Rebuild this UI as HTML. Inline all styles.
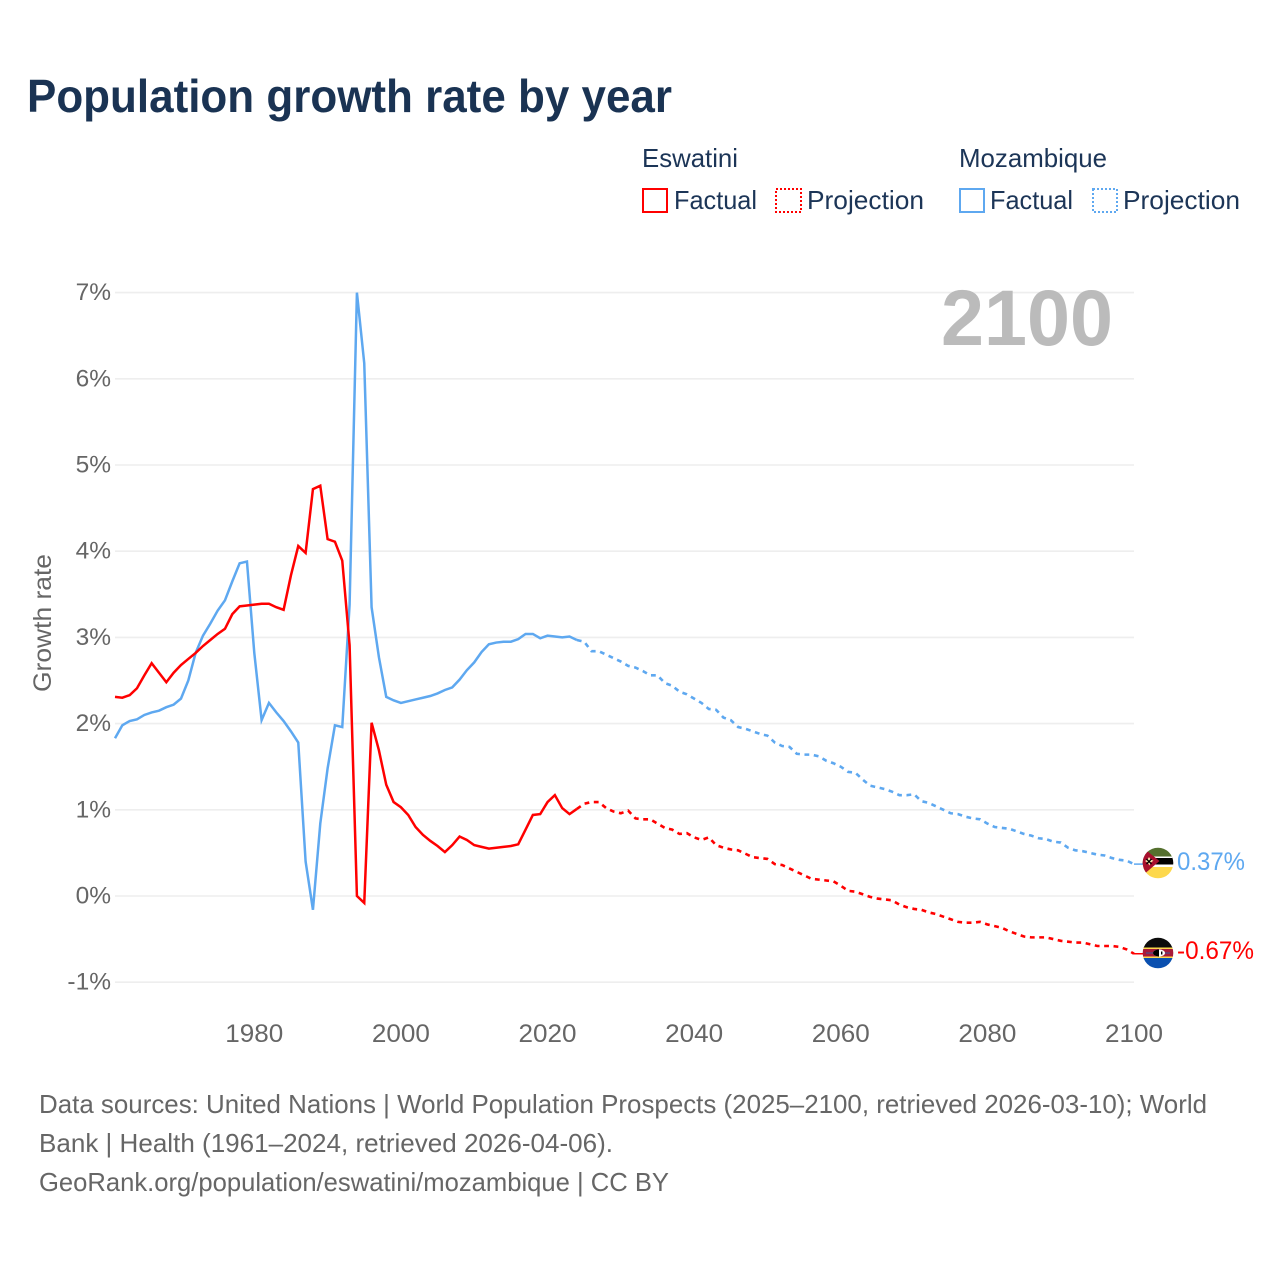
<!DOCTYPE html>
<html lang="en">
<head>
<meta charset="utf-8">
<title>Population growth rate by year</title>
<style>
  html, body { margin: 0; padding: 0; background: #fff; }
  svg { display: block; font-family: "Liberation Sans", "DejaVu Sans", sans-serif; }
</style>
</head>
<body>
<svg id="chart" xmlns="http://www.w3.org/2000/svg" width="1280" height="1280" viewBox="0 0 1280 1280">
  <rect x="0" y="0" width="1280" height="1280" fill="#ffffff"/>
  <text x="27" y="112" font-size="46" font-weight="700" fill="#1a3353" textLength="645" lengthAdjust="spacingAndGlyphs">Population growth rate by year</text>

  <g font-size="26" fill="#1c3557">
    <text x="642" y="167" textLength="96" lengthAdjust="spacingAndGlyphs">Eswatini</text>
    <text x="959" y="167" textLength="148" lengthAdjust="spacingAndGlyphs">Mozambique</text>
    <g>
      <rect x="643" y="189" width="24" height="23" fill="none" stroke="#ff0000" stroke-width="2"/>
      <text x="674" y="209" textLength="83" lengthAdjust="spacingAndGlyphs">Factual</text>
    </g>
    <g>
      <rect x="776" y="189" width="25" height="23" fill="none" stroke="#ff0000" stroke-width="2" stroke-dasharray="2,2"/>
      <text x="807" y="209" textLength="117" lengthAdjust="spacingAndGlyphs">Projection</text>
    </g>
    <g>
      <rect x="960" y="189" width="24" height="23" fill="none" stroke="#5ea8f0" stroke-width="2"/>
      <text x="990" y="209" textLength="83" lengthAdjust="spacingAndGlyphs">Factual</text>
    </g>
    <g>
      <rect x="1093" y="189" width="24" height="23" fill="none" stroke="#5ea8f0" stroke-width="2" stroke-dasharray="2,2"/>
      <text x="1123" y="209" textLength="117" lengthAdjust="spacingAndGlyphs">Projection</text>
    </g>
  </g>

  <text transform="translate(51,692) rotate(-90)" x="0" y="0" font-size="25" fill="#666666" textLength="138" lengthAdjust="spacingAndGlyphs">Growth rate</text>

  <g id="grid"></g>
  <g id="yticks" font-size="24.5" fill="#666666" text-anchor="end"></g>
  <g id="xticks" font-size="25" fill="#666666" text-anchor="middle"></g>

  <text x="941" y="345" font-size="79" font-weight="700" fill="#bbbbbb" textLength="172" lengthAdjust="spacingAndGlyphs">2100</text>

  <g id="series"></g>

  <defs>
    <clipPath id="clip-moz"><circle cx="1158" cy="863" r="15.3"/></clipPath>
    <clipPath id="clip-swz"><circle cx="1158" cy="953" r="15.3"/></clipPath>
  </defs>
  <g clip-path="url(#clip-moz)">
    <rect x="1142" y="847" width="32" height="12" fill="#55702f"/>
    <rect x="1142" y="856.5" width="32" height="2" fill="#ffffff"/>
    <rect x="1142" y="858" width="32" height="6.5" fill="#000000"/>
    <rect x="1142" y="864.5" width="32" height="2.5" fill="#ffffff"/>
    <rect x="1142" y="867" width="32" height="12" fill="#fdd84c"/>
    <polygon points="1142,847 1159.5,861 1142,876" fill="#a8102e"/>
    <polygon points="1149,857 1150.6,859.5 1153.5,860.8 1150.8,862.5 1149.5,865.5 1147.8,862.8 1145,861 1147.5,859.5" fill="#f8e8b0"/>
    <path d="M1146.5,859 L1151.5,864 M1151.5,859 L1146.5,864" stroke="#000" stroke-width="1.3"/>
  </g>
  <g clip-path="url(#clip-swz)">
    <rect x="1142" y="937" width="32" height="11" fill="#0c0c0c"/>
    <rect x="1142" y="947.5" width="32" height="2" fill="#fdd84c"/>
    <rect x="1142" y="949" width="32" height="8" fill="#a81a3a"/>
    <rect x="1142" y="956.5" width="32" height="2" fill="#fdd84c"/>
    <rect x="1142" y="958" width="32" height="11" fill="#0a50b0"/>
    <rect x="1146" y="952.5" width="24" height="1" fill="#3a5a9a"/>
    <ellipse cx="1159" cy="953" rx="6" ry="3.6" fill="#ffffff"/>
    <path d="M1153,953 A6,3.6 0 0 1 1159,949.4 L1159,956.6 A6,3.6 0 0 1 1153,953 Z" fill="#000000"/>
    <rect x="1161" y="951.5" width="1.4" height="3" fill="#000000"/>
  </g>
  <text x="1177" y="870" font-size="25" fill="#5ea8f0" textLength="68" lengthAdjust="spacingAndGlyphs">0.37%</text>
  <text x="1177" y="959" font-size="25" fill="#ff0000" textLength="77" lengthAdjust="spacingAndGlyphs">-0.67%</text>

  <g font-size="26" fill="#666666">
    <text x="39" y="1113" textLength="1168" lengthAdjust="spacingAndGlyphs">Data sources: United Nations | World Population Prospects (2025–2100, retrieved 2026-03-10); World</text>
    <text x="39" y="1152" textLength="574" lengthAdjust="spacingAndGlyphs">Bank | Health (1961–2024, retrieved 2026-04-06).</text>
    <text x="39" y="1191" textLength="630" lengthAdjust="spacingAndGlyphs">GeoRank.org/population/eswatini/mozambique | CC BY</text>
  </g>
</svg>
<script>
const yTickValues = [7, 6, 5, 4, 3, 2, 1, 0, -1];
const yTickLabels = ["7%", "6%", "5%", "4%", "3%", "2%", "1%", "0%", "-1%"];
const xTickYears = [1980, 2000, 2020, 2040, 2060, 2080, 2100];
const xTickLabels = ["1980", "2000", "2020", "2040", "2060", "2080", "2100"];
const factualStartYear = 1961;
const projectionStartYear = 2025;

const eswatiniFactual = [
  2.31,2.30,2.33,2.41,2.56,2.70,2.59,2.48,2.59,2.68,
  2.75,2.82,2.90,2.97,3.04,3.10,3.27,3.36,3.37,3.38,
  3.39,3.39,3.35,3.32,3.72,4.06,3.98,4.72,4.76,4.14,
  4.11,3.89,2.91,0.00,-0.08,2.01,1.69,1.29,1.09,1.03,
  0.94,0.80,0.71,0.64,0.58,0.51,0.59,0.69,0.65,0.59,
  0.57,0.55,0.56,0.57,0.58,0.60,0.77,0.94,0.95,1.09,
  1.17,1.02,0.95,1.01
];
const eswatiniProjection = [
  1.07,1.09,1.09,1.02,0.98,0.96,0.99,0.90,0.89,0.89,
  0.84,0.79,0.77,0.72,0.73,0.68,0.65,0.68,0.59,0.56,
  0.54,0.53,0.49,0.45,0.44,0.43,0.37,0.36,0.32,0.28,
  0.24,0.20,0.19,0.18,0.17,0.12,0.06,0.05,0.02,-0.01,
  -0.03,-0.04,-0.05,-0.10,-0.13,-0.15,-0.16,-0.19,-0.21,-0.24,
  -0.27,-0.30,-0.31,-0.31,-0.30,-0.33,-0.35,-0.37,-0.41,-0.44,
  -0.47,-0.48,-0.48,-0.48,-0.50,-0.52,-0.53,-0.54,-0.54,-0.56,
  -0.58,-0.58,-0.58,-0.59,-0.62,-0.67
];
const mozambiqueFactual = [
  1.83,1.98,2.03,2.05,2.10,2.13,2.15,2.19,2.22,2.29,
  2.50,2.82,3.02,3.16,3.31,3.43,3.65,3.86,3.88,2.82,
  2.04,2.24,2.13,2.03,1.91,1.78,0.40,-0.16,0.84,1.48,
  1.98,1.96,3.38,7.00,6.18,3.35,2.77,2.31,2.27,2.24,
  2.26,2.28,2.30,2.32,2.35,2.39,2.42,2.51,2.62,2.71,
  2.83,2.92,2.94,2.95,2.95,2.98,3.04,3.04,2.99,3.02,
  3.01,3.00,3.01,2.97
];
const mozambiqueProjection = [
  2.95,2.84,2.84,2.80,2.76,2.72,2.67,2.65,2.61,2.56,
  2.56,2.47,2.44,2.37,2.34,2.29,2.24,2.17,2.16,2.07,
  2.04,1.96,1.94,1.91,1.88,1.86,1.78,1.74,1.73,1.65,
  1.64,1.64,1.62,1.57,1.54,1.50,1.44,1.43,1.35,1.28,
  1.26,1.24,1.21,1.17,1.17,1.18,1.10,1.08,1.04,1.00,
  0.96,0.95,0.92,0.90,0.89,0.84,0.80,0.79,0.78,0.75,
  0.72,0.70,0.67,0.66,0.63,0.62,0.56,0.53,0.52,0.50,
  0.48,0.47,0.44,0.42,0.41,0.37
];

const SVG_NS = "http://www.w3.org/2000/svg";
const PLOT_LEFT = 115;
const PLOT_RIGHT = 1134;
const STUB_END = 1144;

function xScale(year) { return 115 + (year - 1961) * 7.331; }
function yScale(value) { return 896 - value * 86.2; }

const gridGroup = document.getElementById("grid");
const yTickGroup = document.getElementById("yticks");
const xTickGroup = document.getElementById("xticks");
const seriesGroup = document.getElementById("series");

yTickValues.forEach(function (value, i) {
  const line = document.createElementNS(SVG_NS, "line");
  
  
  line.setAttribute("x1", PLOT_LEFT);
  line.setAttribute("x2", PLOT_RIGHT);
  line.setAttribute("y1", yScale(value));
  line.setAttribute("y2", yScale(value));
  line.setAttribute("stroke", "#eeeeee");
  line.setAttribute("stroke-width", "1.6");
  gridGroup.appendChild(line);

  const label = document.createElementNS(SVG_NS, "text");
  
  
  label.setAttribute("x", 111);
  label.setAttribute("y", yScale(value) + 7.5);
  label.textContent = yTickLabels[i];
  yTickGroup.appendChild(label);
});

xTickYears.forEach(function (year, i) {
  const label = document.createElementNS(SVG_NS, "text");
  
  
  label.setAttribute("x", xScale(year));
  label.setAttribute("y", 1042);
  label.setAttribute("textLength", 58);
  label.setAttribute("lengthAdjust", "spacingAndGlyphs");
  label.textContent = xTickLabels[i];
  xTickGroup.appendChild(label);
});

function pathFrom(values, startYear, leadValue) {
  const pts = [];
  if (leadValue !== null) {
    pts.push(xScale(startYear - 1).toFixed(2) + "," + yScale(leadValue).toFixed(2));
  }
  values.forEach(function (v, i) {
    pts.push(xScale(startYear + i).toFixed(2) + "," + yScale(v).toFixed(2));
  });
  return "M" + pts.join(" L");
}

function addFactual(values, color, name) {
  const p = document.createElementNS(SVG_NS, "path");
  
  
  p.setAttribute("d", pathFrom(values, factualStartYear, null));
  p.setAttribute("fill", "none");
  p.setAttribute("stroke", color);
  p.setAttribute("stroke-width", "2.5");
  p.setAttribute("stroke-linejoin", "miter");
  seriesGroup.appendChild(p);
}

function addProjection(values, lead, color, name) {
  const p = document.createElementNS(SVG_NS, "path");
  
  
  p.setAttribute("d", pathFrom(values, projectionStartYear, lead));
  p.setAttribute("fill", "none");
  p.setAttribute("stroke", color);
  p.setAttribute("stroke-width", "2.6");
  p.setAttribute("stroke-dasharray", "4.8,4.6");
  seriesGroup.appendChild(p);
}

function addStub(values, color, name) {
  const last = values[values.length - 1];
  const s = document.createElementNS(SVG_NS, "line");
  
  
  s.setAttribute("x1", xScale(2100));
  s.setAttribute("x2", STUB_END);
  s.setAttribute("y1", yScale(last));
  s.setAttribute("y2", yScale(last));
  s.setAttribute("stroke", color);
  s.setAttribute("stroke-width", "1.5");
  seriesGroup.appendChild(s);
}

addFactual(mozambiqueFactual, "#5ea8f0", "mozambique-factual-line");
addProjection(mozambiqueProjection, mozambiqueFactual[mozambiqueFactual.length - 1], "#5ea8f0", "mozambique-projection-line");
addStub(mozambiqueProjection, "#5ea8f0", "mozambique-end-connector");
addFactual(eswatiniFactual, "#ff0000", "eswatini-factual-line");
addProjection(eswatiniProjection, eswatiniFactual[eswatiniFactual.length - 1], "#ff0000", "eswatini-projection-line");
addStub(eswatiniProjection, "#ff0000", "eswatini-end-connector");
</script>
</body>
</html>
